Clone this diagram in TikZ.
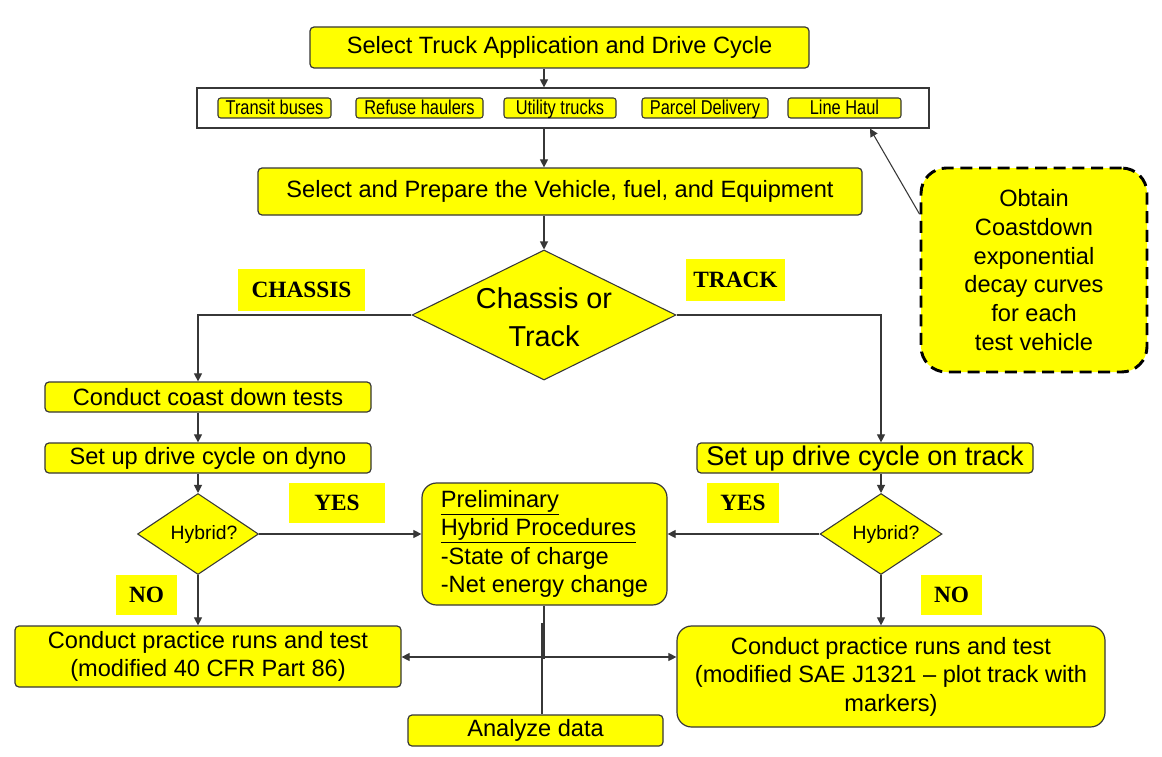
\documentclass[tikz,border=0pt]{standalone}
\usepackage{fontspec}
\setmainfont{Liberation Sans}
\newfontfamily\tnr{Liberation Serif}
\usepackage{graphicx}
\usetikzlibrary{arrows.meta,shapes.geometric,calc}
\definecolor{yel}{RGB}{255,255,0}
\definecolor{edge}{RGB}{55,55,55}
\newcommand\mf{\fontsize{17.7pt}{21.4pt}\selectfont}
\newcommand\snf[1]{\scalebox{0.82}[1]{\fontsize{15pt}{17pt}\selectfont #1}}
\begin{document}
\begin{tikzpicture}[x=0.75pt,y=-0.75pt,
  box/.style={draw=edge, line width=0.9pt, fill=yel, rounded corners=3pt, inner sep=0pt, align=center, font=\mf},
  small/.style={draw=edge, line width=0.8pt, fill=yel, rounded corners=2pt, inner sep=0pt, minimum height=15pt, text height=11.8pt, text depth=2.6pt},
  lab/.style={fill=yel, inner sep=0pt, font=\tnr\bfseries\fontsize{17.5pt}{20pt}\selectfont},
  dec/.style={diamond, draw=edge, line width=0.8pt, fill=yel, inner sep=0pt},
  ln/.style={draw=edge, line width=0.8pt},
  arr/.style={ln, -{Triangle[length=6pt,width=6pt]}},
  darr/.style={ln, {Triangle[length=6pt,width=6pt]}-{Triangle[length=6pt,width=6pt]}}]
\path[use as bounding box, fill=white] (0,0) rectangle (1162,756);

% top
\node[box, minimum width=374.25pt, minimum height=30.75pt] (title) at (559.5,47.5) {Select Truck Application and Drive Cycle};
\node[draw=edge, line width=0.9pt, fill=white, inner sep=0pt, minimum width=549pt, minimum height=30pt] (apps) at (563,108) {};
\node[small, minimum width=84.75pt] (tb) at (274.5,108) {\snf{Transit buses}};
\node[small, minimum width=95.25pt] (rh) at (419.5,108) {\snf{Refuse haulers}};
\node[small, minimum width=84pt] (ut) at (560,108) {\snf{Utility trucks}};
\node[small, minimum width=94.5pt] (pd) at (705,108) {\snf{Parcel Delivery}};
\node[small, minimum width=84.75pt] (lh) at (844.5,108) {\snf{Line Haul}};
\node[box, minimum width=453pt, minimum height=35.25pt] (prep) at (560,191.5) {Select and Prepare the Vehicle, fuel, and Equipment};

% main decision
\node[dec, minimum width=198pt, minimum height=97.5pt] (dia) at (544,315) {};
\node[align=center, inner sep=0pt, font=\fontsize{21.6pt}{28.5pt}\selectfont] (diat) at (544,317) {Chassis or\\Track};
\node[lab, minimum width=95.25pt, minimum height=31.5pt] (chl) at (301.5,290) {CHASSIS};
\node[lab, minimum width=74.25pt, minimum height=31.5pt] (trl) at (735.5,280) {TRACK};

% left column
\node[box, minimum width=244.5pt, minimum height=22.5pt] (coast) at (208,397) {Conduct coast down tests};
\node[box, minimum width=244.5pt, minimum height=22.5pt] (dyno) at (208,458) {Set up drive cycle on dyno};
\node[dec, minimum width=90.75pt, minimum height=60.75pt] (hybL) at (198,534) {};
\node[inner sep=0pt, font=\fontsize{14.5pt}{17pt}\selectfont] (hybLt) at (204,534) {Hybrid?};
\node[lab, minimum width=72pt, minimum height=30pt] (yesL) at (337,503) {YES};
\node[lab, minimum width=45.75pt, minimum height=30pt] (noL) at (146.5,595) {NO};
\node[box, minimum width=289.5pt, minimum height=45.75pt] (runL) at (208,656.5) {Conduct practice runs and test\\(modified 40 CFR Part 86)};

% right column
\node[box, minimum width=252pt, minimum height=22.5pt, font=\fontsize{20.3pt}{24pt}\selectfont] (track) at (865,458) {Set up drive cycle on track};
\node[dec, minimum width=91.5pt, minimum height=60.75pt] (hybR) at (881,534) {};
\node[inner sep=0pt, font=\fontsize{14.5pt}{17pt}\selectfont] (hybRt) at (886,534) {Hybrid?};
\node[lab, minimum width=54pt, minimum height=30pt] (yesR) at (743,503) {YES};
\node[lab, minimum width=45.75pt, minimum height=30pt] (noR) at (951.5,595) {NO};
\node[box, rounded corners=11pt, minimum width=321pt, minimum height=75.75pt] (runR) at (891,676.5) {Conduct practice runs and test\\(modified SAE J1321 -- plot track with\\markers)};

% middle
\node[box, rounded corners=11pt, minimum width=183.75pt, minimum height=91.5pt, align=left] (pre) at (544.5,544) {\underline{Preliminary}\\\underline{Hybrid Procedures}\\-State of charge\\-Net energy change};
\node[box, minimum width=191.25pt, minimum height=23.25pt] (ana) at (535.5,730.5) {Analyze data};

% side note
\node[draw=black, line width=2.2pt, dash pattern=on 9pt off 5pt, fill=yel, rounded corners=19pt, minimum width=169.5pt, minimum height=153pt, align=center, font=\fontsize{17.7pt}{21.5pt}\selectfont] (obt) at (1034,270) {Obtain\\Coastdown\\exponential\\decay curves\\for each\\test vehicle};

% connectors
\coordinate (cx) at (544,0);
\coordinate (mid) at (544,657);
\coordinate (a1) at (542,623);
\coordinate (tip) at (870,128);
\coordinate (ds) at ($(obt.north west)!0.23!(obt.south west)$);
\draw[arr] (title.south -| cx) -- (apps.north -| cx);
\draw[arr] (apps.south -| cx) -- (prep.north -| cx);
\draw[arr] (prep.south -| cx) -- (dia.north);
\draw[arr] (dia.west) -| (hybL |- coast.north);
\draw[arr] (dia.east) -| (hybR |- track.north);
\draw[arr] (hybL |- coast.south) -- (hybL |- dyno.north);
\draw[arr] (hybL |- dyno.south) -- (hybL.north);
\draw[arr] (hybR |- track.south) -- (hybR.north);
\draw[arr] (hybL.east) -- (pre.west |- hybL.east);
\draw[arr] (hybR.west) -- (pre.east |- hybR.west);
\draw[arr] (hybL.south) -- (hybL |- runL.north);
\draw[arr] (hybR.south) -- (hybR |- runR.north);
\draw[darr] (runL.east |- mid) -- (runR.west |- mid);
\draw[ln] (pre.south -| cx) -- ([yshift=-1.5pt]mid);
\draw[ln] (a1) -- (ana.north -| a1);
\draw[arr] (ds) -- (apps.south -| tip);
\end{tikzpicture}
\end{document}
